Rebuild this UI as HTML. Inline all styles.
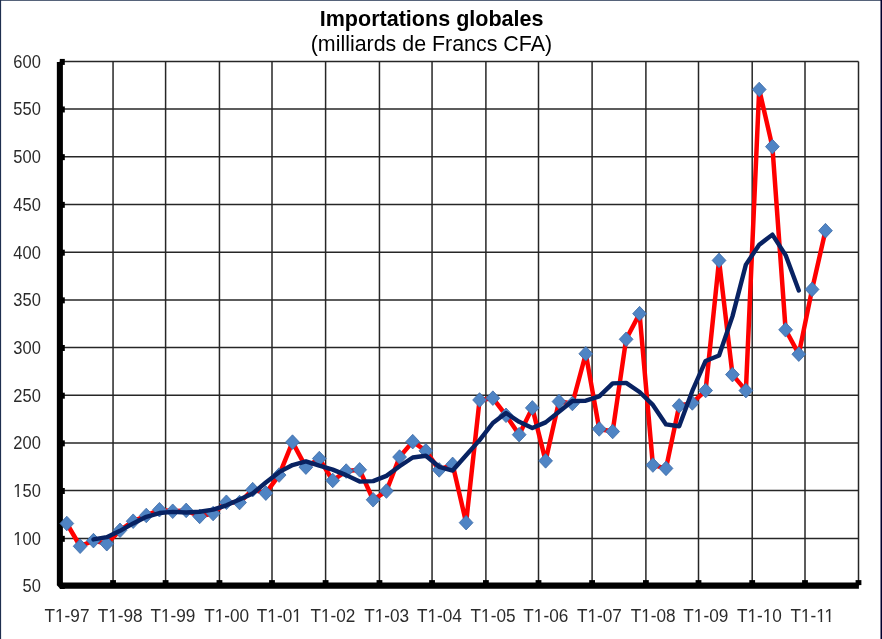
<!DOCTYPE html>
<html><head><meta charset="utf-8"><style>
html,body{margin:0;padding:0;background:#fff;}
body{width:882px;height:639px;overflow:hidden;position:relative;}
svg{position:absolute;left:0;top:0;will-change:transform;}
.ax{font-family:"Liberation Sans",sans-serif;font-size:17.2px;fill:#2b2b2b;}
.ay{font-family:"Liberation Sans",sans-serif;font-size:16.5px;fill:#2b2b2b;}
.t1{font-family:"Liberation Sans",sans-serif;font-size:21.55px;font-weight:bold;fill:#000;}
.t2{font-family:"Liberation Sans",sans-serif;font-size:21.4px;fill:#000;}
</style></head><body>
<svg width="882" height="639" viewBox="0 0 882 639">
<rect x="0" y="0" width="882" height="639" fill="#fff"/>
<line x1="59.75" y1="61.52" x2="858.50" y2="61.52" stroke="#262626" stroke-width="1.5"/>
<line x1="59.75" y1="109.07" x2="858.50" y2="109.07" stroke="#262626" stroke-width="1.5"/>
<line x1="59.75" y1="156.75" x2="858.50" y2="156.75" stroke="#262626" stroke-width="1.5"/>
<line x1="59.75" y1="204.45" x2="858.50" y2="204.45" stroke="#262626" stroke-width="1.5"/>
<line x1="59.75" y1="252.30" x2="858.50" y2="252.30" stroke="#262626" stroke-width="1.5"/>
<line x1="59.75" y1="299.96" x2="858.50" y2="299.96" stroke="#262626" stroke-width="1.5"/>
<line x1="59.75" y1="347.58" x2="858.50" y2="347.58" stroke="#262626" stroke-width="1.5"/>
<line x1="59.75" y1="395.30" x2="858.50" y2="395.30" stroke="#262626" stroke-width="1.5"/>
<line x1="59.75" y1="442.96" x2="858.50" y2="442.96" stroke="#262626" stroke-width="1.5"/>
<line x1="59.75" y1="490.58" x2="858.50" y2="490.58" stroke="#262626" stroke-width="1.5"/>
<line x1="59.75" y1="538.44" x2="858.50" y2="538.44" stroke="#262626" stroke-width="1.5"/>
<line x1="59.75" y1="585.57" x2="858.50" y2="585.57" stroke="#262626" stroke-width="1.5"/>
<line x1="113.05" y1="61.52" x2="113.05" y2="585.57" stroke="#262626" stroke-width="1.5"/>
<line x1="165.60" y1="61.52" x2="165.60" y2="585.57" stroke="#262626" stroke-width="1.5"/>
<line x1="219.45" y1="61.52" x2="219.45" y2="585.57" stroke="#262626" stroke-width="1.5"/>
<line x1="272.00" y1="61.52" x2="272.00" y2="585.57" stroke="#262626" stroke-width="1.5"/>
<line x1="325.60" y1="61.52" x2="325.60" y2="585.57" stroke="#262626" stroke-width="1.5"/>
<line x1="379.45" y1="61.52" x2="379.45" y2="585.57" stroke="#262626" stroke-width="1.5"/>
<line x1="432.05" y1="61.52" x2="432.05" y2="585.57" stroke="#262626" stroke-width="1.5"/>
<line x1="485.90" y1="61.52" x2="485.90" y2="585.57" stroke="#262626" stroke-width="1.5"/>
<line x1="538.50" y1="61.52" x2="538.50" y2="585.57" stroke="#262626" stroke-width="1.5"/>
<line x1="592.10" y1="61.52" x2="592.10" y2="585.57" stroke="#262626" stroke-width="1.5"/>
<line x1="645.90" y1="61.52" x2="645.90" y2="585.57" stroke="#262626" stroke-width="1.5"/>
<line x1="698.50" y1="61.52" x2="698.50" y2="585.57" stroke="#262626" stroke-width="1.5"/>
<line x1="752.20" y1="61.52" x2="752.20" y2="585.57" stroke="#262626" stroke-width="1.5"/>
<line x1="805.00" y1="61.52" x2="805.00" y2="585.57" stroke="#262626" stroke-width="1.5"/>
<line x1="858.50" y1="61.52" x2="858.50" y2="585.57" stroke="#262626" stroke-width="1.5"/>
<path d="M56.85,62 L62.9,62 L62.9,582.5 L858.9,582.5 L858.9,588.8 L60.2,588.8 L56.85,585.3 Z" fill="#000"/>
<rect x="59.8" y="58.92" width="5" height="6" fill="#000"/>
<rect x="59.8" y="106.47" width="5" height="6" fill="#000"/>
<rect x="59.8" y="154.15" width="5" height="6" fill="#000"/>
<rect x="59.8" y="201.85" width="5" height="6" fill="#000"/>
<rect x="59.8" y="249.70" width="5" height="6" fill="#000"/>
<rect x="59.8" y="297.36" width="5" height="6" fill="#000"/>
<rect x="59.8" y="344.98" width="5" height="6" fill="#000"/>
<rect x="59.8" y="392.70" width="5" height="6" fill="#000"/>
<rect x="59.8" y="440.36" width="5" height="6" fill="#000"/>
<rect x="59.8" y="487.98" width="5" height="6" fill="#000"/>
<rect x="59.8" y="535.84" width="5" height="6" fill="#000"/>
<rect x="59.8" y="582.97" width="5" height="6" fill="#000"/>
<rect x="110.15" y="580.1" width="5.8" height="5" fill="#000"/>
<rect x="162.70" y="580.1" width="5.8" height="5" fill="#000"/>
<rect x="216.55" y="580.1" width="5.8" height="5" fill="#000"/>
<rect x="269.10" y="580.1" width="5.8" height="5" fill="#000"/>
<rect x="322.70" y="580.1" width="5.8" height="5" fill="#000"/>
<rect x="376.55" y="580.1" width="5.8" height="5" fill="#000"/>
<rect x="429.15" y="580.1" width="5.8" height="5" fill="#000"/>
<rect x="483.00" y="580.1" width="5.8" height="5" fill="#000"/>
<rect x="535.60" y="580.1" width="5.8" height="5" fill="#000"/>
<rect x="589.20" y="580.1" width="5.8" height="5" fill="#000"/>
<rect x="643.00" y="580.1" width="5.8" height="5" fill="#000"/>
<rect x="695.60" y="580.1" width="5.8" height="5" fill="#000"/>
<rect x="749.30" y="580.1" width="5.8" height="5" fill="#000"/>
<rect x="802.10" y="580.1" width="5.8" height="5" fill="#000"/>
<rect x="855.60" y="580.1" width="5.8" height="5" fill="#000"/>
<polyline points="66.81,523.51 80.14,546.26 93.46,540.61 106.79,543.72 120.02,530.30 133.16,521.21 146.29,515.47 159.43,509.72 172.73,511.26 186.19,510.39 199.66,516.42 213.12,513.55 226.42,502.26 239.56,502.55 252.69,489.63 265.83,493.16 279.10,475.06 292.50,442.10 305.90,467.15 319.30,458.58 332.73,480.48 346.19,471.06 359.66,469.82 373.12,499.77 386.42,491.06 399.57,457.06 412.72,441.63 425.88,450.86 439.18,469.91 452.64,464.39 466.11,522.65 479.57,399.97 492.87,398.16 506.02,415.32 519.17,434.67 532.32,407.88 545.60,460.87 559.00,401.59 572.40,403.50 585.80,353.78 599.23,428.95 612.67,431.52 626.12,339.29 639.57,313.67 652.88,465.06 666.02,468.39 679.17,405.79 692.32,402.93 705.61,390.53 719.04,260.40 732.46,374.59 745.89,390.62 759.20,89.48 772.40,146.64 785.60,329.77 798.80,354.17 812.09,289.38 825.46,230.67" fill="none" stroke="#ff0000" stroke-width="4.5" stroke-linejoin="round"/>
<polygon points="66.81,516.21 73.71,523.51 66.81,530.81 59.91,523.51" fill="#4f84c4" stroke="#3b6aa6" stroke-width="0.8" stroke-linejoin="miter"/>
<polygon points="80.14,538.96 87.04,546.26 80.14,553.56 73.24,546.26" fill="#4f84c4" stroke="#3b6aa6" stroke-width="0.8" stroke-linejoin="miter"/>
<polygon points="93.46,533.31 100.36,540.61 93.46,547.91 86.56,540.61" fill="#4f84c4" stroke="#3b6aa6" stroke-width="0.8" stroke-linejoin="miter"/>
<polygon points="106.79,536.42 113.69,543.72 106.79,551.02 99.89,543.72" fill="#4f84c4" stroke="#3b6aa6" stroke-width="0.8" stroke-linejoin="miter"/>
<polygon points="120.02,523.00 126.92,530.30 120.02,537.60 113.12,530.30" fill="#4f84c4" stroke="#3b6aa6" stroke-width="0.8" stroke-linejoin="miter"/>
<polygon points="133.16,513.91 140.06,521.21 133.16,528.51 126.26,521.21" fill="#4f84c4" stroke="#3b6aa6" stroke-width="0.8" stroke-linejoin="miter"/>
<polygon points="146.29,508.17 153.19,515.47 146.29,522.77 139.39,515.47" fill="#4f84c4" stroke="#3b6aa6" stroke-width="0.8" stroke-linejoin="miter"/>
<polygon points="159.43,502.42 166.33,509.72 159.43,517.02 152.53,509.72" fill="#4f84c4" stroke="#3b6aa6" stroke-width="0.8" stroke-linejoin="miter"/>
<polygon points="172.73,503.96 179.63,511.26 172.73,518.56 165.83,511.26" fill="#4f84c4" stroke="#3b6aa6" stroke-width="0.8" stroke-linejoin="miter"/>
<polygon points="186.19,503.09 193.09,510.39 186.19,517.69 179.29,510.39" fill="#4f84c4" stroke="#3b6aa6" stroke-width="0.8" stroke-linejoin="miter"/>
<polygon points="199.66,509.12 206.56,516.42 199.66,523.72 192.76,516.42" fill="#4f84c4" stroke="#3b6aa6" stroke-width="0.8" stroke-linejoin="miter"/>
<polygon points="213.12,506.25 220.02,513.55 213.12,520.85 206.22,513.55" fill="#4f84c4" stroke="#3b6aa6" stroke-width="0.8" stroke-linejoin="miter"/>
<polygon points="226.42,494.96 233.32,502.26 226.42,509.56 219.52,502.26" fill="#4f84c4" stroke="#3b6aa6" stroke-width="0.8" stroke-linejoin="miter"/>
<polygon points="239.56,495.25 246.46,502.55 239.56,509.85 232.66,502.55" fill="#4f84c4" stroke="#3b6aa6" stroke-width="0.8" stroke-linejoin="miter"/>
<polygon points="252.69,482.33 259.59,489.63 252.69,496.93 245.79,489.63" fill="#4f84c4" stroke="#3b6aa6" stroke-width="0.8" stroke-linejoin="miter"/>
<polygon points="265.83,485.86 272.73,493.16 265.83,500.46 258.93,493.16" fill="#4f84c4" stroke="#3b6aa6" stroke-width="0.8" stroke-linejoin="miter"/>
<polygon points="279.10,467.76 286.00,475.06 279.10,482.36 272.20,475.06" fill="#4f84c4" stroke="#3b6aa6" stroke-width="0.8" stroke-linejoin="miter"/>
<polygon points="292.50,434.80 299.40,442.10 292.50,449.40 285.60,442.10" fill="#4f84c4" stroke="#3b6aa6" stroke-width="0.8" stroke-linejoin="miter"/>
<polygon points="305.90,459.85 312.80,467.15 305.90,474.45 299.00,467.15" fill="#4f84c4" stroke="#3b6aa6" stroke-width="0.8" stroke-linejoin="miter"/>
<polygon points="319.30,451.28 326.20,458.58 319.30,465.88 312.40,458.58" fill="#4f84c4" stroke="#3b6aa6" stroke-width="0.8" stroke-linejoin="miter"/>
<polygon points="332.73,473.18 339.63,480.48 332.73,487.78 325.83,480.48" fill="#4f84c4" stroke="#3b6aa6" stroke-width="0.8" stroke-linejoin="miter"/>
<polygon points="346.19,463.76 353.09,471.06 346.19,478.36 339.29,471.06" fill="#4f84c4" stroke="#3b6aa6" stroke-width="0.8" stroke-linejoin="miter"/>
<polygon points="359.66,462.52 366.56,469.82 359.66,477.12 352.76,469.82" fill="#4f84c4" stroke="#3b6aa6" stroke-width="0.8" stroke-linejoin="miter"/>
<polygon points="373.12,492.47 380.02,499.77 373.12,507.07 366.22,499.77" fill="#4f84c4" stroke="#3b6aa6" stroke-width="0.8" stroke-linejoin="miter"/>
<polygon points="386.42,483.76 393.32,491.06 386.42,498.36 379.52,491.06" fill="#4f84c4" stroke="#3b6aa6" stroke-width="0.8" stroke-linejoin="miter"/>
<polygon points="399.57,449.76 406.47,457.06 399.57,464.36 392.68,457.06" fill="#4f84c4" stroke="#3b6aa6" stroke-width="0.8" stroke-linejoin="miter"/>
<polygon points="412.72,434.33 419.62,441.63 412.72,448.93 405.82,441.63" fill="#4f84c4" stroke="#3b6aa6" stroke-width="0.8" stroke-linejoin="miter"/>
<polygon points="425.88,443.56 432.77,450.86 425.88,458.16 418.98,450.86" fill="#4f84c4" stroke="#3b6aa6" stroke-width="0.8" stroke-linejoin="miter"/>
<polygon points="439.18,462.61 446.08,469.91 439.18,477.21 432.28,469.91" fill="#4f84c4" stroke="#3b6aa6" stroke-width="0.8" stroke-linejoin="miter"/>
<polygon points="452.64,457.09 459.54,464.39 452.64,471.69 445.74,464.39" fill="#4f84c4" stroke="#3b6aa6" stroke-width="0.8" stroke-linejoin="miter"/>
<polygon points="466.11,515.35 473.01,522.65 466.11,529.95 459.21,522.65" fill="#4f84c4" stroke="#3b6aa6" stroke-width="0.8" stroke-linejoin="miter"/>
<polygon points="479.57,392.67 486.47,399.97 479.57,407.27 472.67,399.97" fill="#4f84c4" stroke="#3b6aa6" stroke-width="0.8" stroke-linejoin="miter"/>
<polygon points="492.87,390.86 499.77,398.16 492.87,405.46 485.97,398.16" fill="#4f84c4" stroke="#3b6aa6" stroke-width="0.8" stroke-linejoin="miter"/>
<polygon points="506.02,408.02 512.92,415.32 506.02,422.62 499.12,415.32" fill="#4f84c4" stroke="#3b6aa6" stroke-width="0.8" stroke-linejoin="miter"/>
<polygon points="519.17,427.37 526.07,434.67 519.17,441.97 512.27,434.67" fill="#4f84c4" stroke="#3b6aa6" stroke-width="0.8" stroke-linejoin="miter"/>
<polygon points="532.32,400.58 539.22,407.88 532.32,415.18 525.42,407.88" fill="#4f84c4" stroke="#3b6aa6" stroke-width="0.8" stroke-linejoin="miter"/>
<polygon points="545.60,453.57 552.50,460.87 545.60,468.17 538.70,460.87" fill="#4f84c4" stroke="#3b6aa6" stroke-width="0.8" stroke-linejoin="miter"/>
<polygon points="559.00,394.29 565.90,401.59 559.00,408.89 552.10,401.59" fill="#4f84c4" stroke="#3b6aa6" stroke-width="0.8" stroke-linejoin="miter"/>
<polygon points="572.40,396.20 579.30,403.50 572.40,410.80 565.50,403.50" fill="#4f84c4" stroke="#3b6aa6" stroke-width="0.8" stroke-linejoin="miter"/>
<polygon points="585.80,346.48 592.70,353.78 585.80,361.08 578.90,353.78" fill="#4f84c4" stroke="#3b6aa6" stroke-width="0.8" stroke-linejoin="miter"/>
<polygon points="599.23,421.65 606.12,428.95 599.23,436.25 592.33,428.95" fill="#4f84c4" stroke="#3b6aa6" stroke-width="0.8" stroke-linejoin="miter"/>
<polygon points="612.67,424.22 619.57,431.52 612.67,438.82 605.77,431.52" fill="#4f84c4" stroke="#3b6aa6" stroke-width="0.8" stroke-linejoin="miter"/>
<polygon points="626.12,331.99 633.02,339.29 626.12,346.59 619.23,339.29" fill="#4f84c4" stroke="#3b6aa6" stroke-width="0.8" stroke-linejoin="miter"/>
<polygon points="639.57,306.37 646.47,313.67 639.57,320.97 632.67,313.67" fill="#4f84c4" stroke="#3b6aa6" stroke-width="0.8" stroke-linejoin="miter"/>
<polygon points="652.88,457.76 659.77,465.06 652.88,472.36 645.98,465.06" fill="#4f84c4" stroke="#3b6aa6" stroke-width="0.8" stroke-linejoin="miter"/>
<polygon points="666.02,461.09 672.92,468.39 666.02,475.69 659.12,468.39" fill="#4f84c4" stroke="#3b6aa6" stroke-width="0.8" stroke-linejoin="miter"/>
<polygon points="679.17,398.49 686.07,405.79 679.17,413.09 672.27,405.79" fill="#4f84c4" stroke="#3b6aa6" stroke-width="0.8" stroke-linejoin="miter"/>
<polygon points="692.32,395.63 699.22,402.93 692.32,410.23 685.42,402.93" fill="#4f84c4" stroke="#3b6aa6" stroke-width="0.8" stroke-linejoin="miter"/>
<polygon points="705.61,383.23 712.51,390.53 705.61,397.83 698.71,390.53" fill="#4f84c4" stroke="#3b6aa6" stroke-width="0.8" stroke-linejoin="miter"/>
<polygon points="719.04,253.10 725.94,260.40 719.04,267.70 712.14,260.40" fill="#4f84c4" stroke="#3b6aa6" stroke-width="0.8" stroke-linejoin="miter"/>
<polygon points="732.46,367.29 739.36,374.59 732.46,381.89 725.56,374.59" fill="#4f84c4" stroke="#3b6aa6" stroke-width="0.8" stroke-linejoin="miter"/>
<polygon points="745.89,383.32 752.79,390.62 745.89,397.92 738.99,390.62" fill="#4f84c4" stroke="#3b6aa6" stroke-width="0.8" stroke-linejoin="miter"/>
<polygon points="759.20,82.18 766.10,89.48 759.20,96.78 752.30,89.48" fill="#4f84c4" stroke="#3b6aa6" stroke-width="0.8" stroke-linejoin="miter"/>
<polygon points="772.40,139.34 779.30,146.64 772.40,153.94 765.50,146.64" fill="#4f84c4" stroke="#3b6aa6" stroke-width="0.8" stroke-linejoin="miter"/>
<polygon points="785.60,322.47 792.50,329.77 785.60,337.07 778.70,329.77" fill="#4f84c4" stroke="#3b6aa6" stroke-width="0.8" stroke-linejoin="miter"/>
<polygon points="798.80,346.87 805.70,354.17 798.80,361.47 791.90,354.17" fill="#4f84c4" stroke="#3b6aa6" stroke-width="0.8" stroke-linejoin="miter"/>
<polygon points="812.09,282.08 818.99,289.38 812.09,296.68 805.19,289.38" fill="#4f84c4" stroke="#3b6aa6" stroke-width="0.8" stroke-linejoin="miter"/>
<polygon points="825.46,223.37 832.36,230.67 825.46,237.97 818.56,230.67" fill="#4f84c4" stroke="#3b6aa6" stroke-width="0.8" stroke-linejoin="miter"/>
<polyline points="93.46,539.42 106.79,537.14 120.02,530.84 133.16,523.44 146.29,516.80 159.43,513.06 172.73,511.83 186.19,512.43 199.66,511.78 213.12,509.68 226.42,505.34 239.56,499.45 252.69,493.49 265.83,482.53 279.10,472.17 292.50,465.04 305.90,461.40 319.30,465.70 332.73,469.65 346.19,475.13 359.66,481.59 373.12,481.16 386.42,475.89 399.57,466.26 412.72,457.51 425.88,455.78 439.18,466.81 452.64,470.56 466.11,455.23 479.57,440.14 492.87,423.01 506.02,413.02 519.17,421.85 532.32,427.97 545.60,422.36 559.00,411.71 572.40,400.96 585.80,400.71 599.23,396.43 612.67,383.38 626.12,382.88 639.57,392.02 652.88,404.94 666.02,424.40 679.17,426.23 692.32,390.91 705.61,360.98 719.04,355.54 732.46,316.41 745.89,264.63 759.20,244.81 772.40,234.62 785.60,255.10 798.80,290.55" fill="none" stroke="#082262" stroke-width="4.4" stroke-linejoin="round" stroke-linecap="round"/>
<g transform="translate(40.8,67.72) scale(1,1.075)"><text text-anchor="end" class="ay">600</text></g>
<g transform="translate(40.8,115.27) scale(1,1.075)"><text text-anchor="end" class="ay">550</text></g>
<g transform="translate(40.8,162.95) scale(1,1.075)"><text text-anchor="end" class="ay">500</text></g>
<g transform="translate(40.8,210.65) scale(1,1.075)"><text text-anchor="end" class="ay">450</text></g>
<g transform="translate(40.8,258.50) scale(1,1.075)"><text text-anchor="end" class="ay">400</text></g>
<g transform="translate(40.8,306.16) scale(1,1.075)"><text text-anchor="end" class="ay">350</text></g>
<g transform="translate(40.8,353.78) scale(1,1.075)"><text text-anchor="end" class="ay">300</text></g>
<g transform="translate(40.8,401.50) scale(1,1.075)"><text text-anchor="end" class="ay">250</text></g>
<g transform="translate(40.8,449.16) scale(1,1.075)"><text text-anchor="end" class="ay">200</text></g>
<g transform="translate(40.8,496.78) scale(1,1.075)"><text text-anchor="end" class="ay">150</text><rect x="-27.04" y="-1.93" width="3.64" height="2.43" fill="#fff"/><rect x="-21.84" y="-1.93" width="3.56" height="2.43" fill="#fff"/></g>
<g transform="translate(40.8,544.64) scale(1,1.075)"><text text-anchor="end" class="ay">100</text><rect x="-27.04" y="-1.93" width="3.64" height="2.43" fill="#fff"/><rect x="-21.84" y="-1.93" width="3.56" height="2.43" fill="#fff"/></g>
<g transform="translate(40.8,591.77) scale(1,1.075)"><text text-anchor="end" class="ay">50</text></g>
<g transform="translate(67.01,621.8) scale(1,1.05)"><text text-anchor="middle" class="ax">T1-97</text><rect x="-11.45" y="-1.98" width="3.77" height="2.48" fill="#fff"/><rect x="-6.06" y="-1.98" width="3.68" height="2.48" fill="#fff"/></g>
<g transform="translate(120.22,621.8) scale(1,1.05)"><text text-anchor="middle" class="ax">T1-98</text><rect x="-11.45" y="-1.98" width="3.77" height="2.48" fill="#fff"/><rect x="-6.06" y="-1.98" width="3.68" height="2.48" fill="#fff"/></g>
<g transform="translate(172.93,621.8) scale(1,1.05)"><text text-anchor="middle" class="ax">T1-99</text><rect x="-11.45" y="-1.98" width="3.77" height="2.48" fill="#fff"/><rect x="-6.06" y="-1.98" width="3.68" height="2.48" fill="#fff"/></g>
<g transform="translate(226.62,621.8) scale(1,1.05)"><text text-anchor="middle" class="ax">T1-00</text><rect x="-11.45" y="-1.98" width="3.77" height="2.48" fill="#fff"/><rect x="-6.06" y="-1.98" width="3.68" height="2.48" fill="#fff"/></g>
<g transform="translate(279.30,621.8) scale(1,1.05)"><text text-anchor="middle" class="ax">T1-01</text><rect x="-11.45" y="-1.98" width="3.77" height="2.48" fill="#fff"/><rect x="-6.06" y="-1.98" width="3.68" height="2.48" fill="#fff"/><rect x="13.40" y="-1.98" width="3.77" height="2.48" fill="#fff"/><rect x="18.78" y="-1.98" width="3.68" height="2.48" fill="#fff"/></g>
<g transform="translate(332.93,621.8) scale(1,1.05)"><text text-anchor="middle" class="ax">T1-02</text><rect x="-11.45" y="-1.98" width="3.77" height="2.48" fill="#fff"/><rect x="-6.06" y="-1.98" width="3.68" height="2.48" fill="#fff"/></g>
<g transform="translate(386.62,621.8) scale(1,1.05)"><text text-anchor="middle" class="ax">T1-03</text><rect x="-11.45" y="-1.98" width="3.77" height="2.48" fill="#fff"/><rect x="-6.06" y="-1.98" width="3.68" height="2.48" fill="#fff"/></g>
<g transform="translate(439.38,621.8) scale(1,1.05)"><text text-anchor="middle" class="ax">T1-04</text><rect x="-11.45" y="-1.98" width="3.77" height="2.48" fill="#fff"/><rect x="-6.06" y="-1.98" width="3.68" height="2.48" fill="#fff"/></g>
<g transform="translate(493.07,621.8) scale(1,1.05)"><text text-anchor="middle" class="ax">T1-05</text><rect x="-11.45" y="-1.98" width="3.77" height="2.48" fill="#fff"/><rect x="-6.06" y="-1.98" width="3.68" height="2.48" fill="#fff"/></g>
<g transform="translate(545.80,621.8) scale(1,1.05)"><text text-anchor="middle" class="ax">T1-06</text><rect x="-11.45" y="-1.98" width="3.77" height="2.48" fill="#fff"/><rect x="-6.06" y="-1.98" width="3.68" height="2.48" fill="#fff"/></g>
<g transform="translate(599.43,621.8) scale(1,1.05)"><text text-anchor="middle" class="ax">T1-07</text><rect x="-11.45" y="-1.98" width="3.77" height="2.48" fill="#fff"/><rect x="-6.06" y="-1.98" width="3.68" height="2.48" fill="#fff"/></g>
<g transform="translate(653.08,621.8) scale(1,1.05)"><text text-anchor="middle" class="ax">T1-08</text><rect x="-11.45" y="-1.98" width="3.77" height="2.48" fill="#fff"/><rect x="-6.06" y="-1.98" width="3.68" height="2.48" fill="#fff"/></g>
<g transform="translate(705.81,621.8) scale(1,1.05)"><text text-anchor="middle" class="ax">T1-09</text><rect x="-11.45" y="-1.98" width="3.77" height="2.48" fill="#fff"/><rect x="-6.06" y="-1.98" width="3.68" height="2.48" fill="#fff"/></g>
<g transform="translate(759.40,621.8) scale(1,1.05)"><text text-anchor="middle" class="ax">T1-10</text><rect x="-11.45" y="-1.98" width="3.77" height="2.48" fill="#fff"/><rect x="-6.06" y="-1.98" width="3.68" height="2.48" fill="#fff"/><rect x="3.84" y="-1.98" width="3.77" height="2.48" fill="#fff"/><rect x="9.23" y="-1.98" width="3.68" height="2.48" fill="#fff"/></g>
<g transform="translate(812.29,621.8) scale(1,1.05)"><text text-anchor="middle" class="ax">T1-11</text><rect x="-10.81" y="-1.98" width="3.77" height="2.48" fill="#fff"/><rect x="-5.42" y="-1.98" width="3.68" height="2.48" fill="#fff"/><rect x="4.48" y="-1.98" width="3.77" height="2.48" fill="#fff"/><rect x="9.87" y="-1.98" width="3.68" height="2.48" fill="#fff"/><rect x="12.75" y="-1.98" width="3.77" height="2.48" fill="#fff"/><rect x="18.14" y="-1.98" width="3.68" height="2.48" fill="#fff"/></g>
<text transform="translate(431.6,26) scale(1,1.025)" text-anchor="middle" class="t1">Importations globales</text>
<text transform="translate(431.4,51.3) scale(1,1.03)" text-anchor="middle" class="t2">(milliards de Francs CFA)</text>
<rect x="0" y="0" width="882" height="1" fill="#56637a"/>
<rect x="0" y="0" width="1.1" height="639" fill="#1f2f4f"/>
<rect x="880.5" y="0" width="1.5" height="639" fill="#00002e"/>
</svg>
</body></html>
